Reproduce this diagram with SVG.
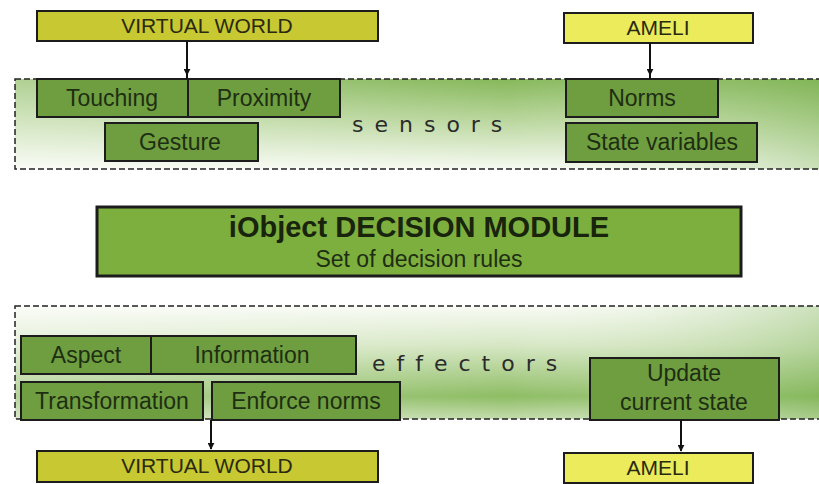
<svg xmlns="http://www.w3.org/2000/svg" width="819" height="484" viewBox="0 0 819 484">
<defs>
<linearGradient id="gS" x1="0" y1="0" x2="0" y2="1">
<stop offset="0" stop-color="#86b85a"/>
<stop offset="0.45" stop-color="#b9d69c"/>
<stop offset="1" stop-color="#f6faf1"/>
</linearGradient>
<linearGradient id="gE" x1="0" y1="0" x2="0" y2="1">
<stop offset="0" stop-color="#f8fbf4"/>
<stop offset="0.35" stop-color="#d6e7c4"/>
<stop offset="0.8" stop-color="#8ebd64"/>
<stop offset="1" stop-color="#c4dcae"/>
</linearGradient>
<linearGradient id="gH" x1="0" y1="0" x2="1" y2="0">
<stop offset="0" stop-color="#ffffff" stop-opacity="0.35"/>
<stop offset="0.6" stop-color="#ffffff" stop-opacity="0"/>
<stop offset="1" stop-color="#6faa44" stop-opacity="0.35"/>
</linearGradient>
<marker id="arr" viewBox="0 0 10 10" refX="9" refY="5" markerWidth="7" markerHeight="7" orient="auto" markerUnits="userSpaceOnUse">
<path d="M0,0 L10,5 L0,10 z" fill="#111"/>
</marker>
<style>
.band{stroke:#222;stroke-width:1.5;stroke-dasharray:6 3}
.n{fill:#6e9e40;stroke:#1c1c1c;stroke-width:2}
.vw{fill:#c8c832;stroke:#1c1c1c;stroke-width:2}
.am{fill:#ebeb5c;stroke:#1c1c1c;stroke-width:2}
.dm{fill:#7daf3e;stroke:#1c1c1c;stroke-width:3}
.t{font-family:"Liberation Sans",Arial,sans-serif;font-size:23px;fill:#1e2e12;text-anchor:middle}
.tv{font-family:"Liberation Sans",Arial,sans-serif;font-size:21px;fill:#2a2a10;text-anchor:middle}
.lbl{font-family:"DejaVu Sans",sans-serif;font-size:22px;fill:#2b2b2b;letter-spacing:2px}
.c{stroke:#111;stroke-width:2;fill:none}
</style>
</defs>
<rect width="819" height="484" fill="#ffffff"/>

<g id="sensors">
<rect x="15" y="79" width="820" height="90" fill="url(#gS)"/>
<rect x="15" y="79" width="820" height="90" fill="url(#gH)"/>
<rect class="band" x="15" y="79" width="820" height="90" fill="none"/>
<text class="lbl" x="352" y="132">s e n s o r s</text>
</g>

<g id="effectors">
<rect x="15" y="306" width="820" height="113" fill="url(#gE)"/>
<rect x="15" y="306" width="820" height="113" fill="url(#gH)"/>
<rect class="band" x="15" y="306" width="820" height="113" fill="none"/>
<text class="lbl" x="372" y="371">e f f e c t o r s</text>
</g>

<g id="vw-top"><rect class="vw" x="37" y="11" width="341" height="30"/><text class="tv" x="207" y="33">VIRTUAL WORLD</text></g>
<g id="ameli-top"><rect class="am" x="564" y="13" width="189" height="30"/><text class="tv" x="658" y="35">AMELI</text></g>

<g id="touching"><rect class="n" x="37" y="79" width="151" height="38"/><text class="t" x="112" y="106">Touching</text></g>
<g id="proximity"><rect class="n" x="188" y="79" width="152" height="38"/><text class="t" x="264" y="106">Proximity</text></g>
<g id="gesture"><rect class="n" x="105" y="123" width="153" height="38"/><text class="t" x="180" y="150">Gesture</text></g>
<g id="norms"><rect class="n" x="566" y="79" width="152" height="38"/><text class="t" x="642" y="106">Norms</text></g>
<g id="statevars"><rect class="n" x="566" y="123" width="191" height="39"/><text class="t" x="662" y="150">State variables</text></g>

<g id="decision">
<rect class="dm" x="97" y="207" width="644" height="69"/>
<text x="419" y="237" text-anchor="middle" font-family="'Liberation Sans',Arial,sans-serif" font-size="29" font-weight="bold" fill="#18240c">iObject DECISION MODULE</text>
<text x="419" y="267" text-anchor="middle" font-family="'Liberation Sans',Arial,sans-serif" font-size="23" fill="#1e2e12">Set of decision rules</text>
</g>

<g id="aspect"><rect class="n" x="21" y="336" width="130" height="38"/><text class="t" x="86" y="363">Aspect</text></g>
<g id="information"><rect class="n" x="151" y="336" width="205" height="38"/><text class="t" x="252" y="363">Information</text></g>
<g id="transformation"><rect class="n" x="21" y="382" width="182" height="38"/><text class="t" x="112" y="409">Transformation</text></g>
<g id="enforce"><rect class="n" x="212" y="382" width="188" height="38"/><text class="t" x="306" y="409">Enforce norms</text></g>
<g id="update"><rect class="n" x="590" y="358" width="189" height="62"/><text class="t" x="684" y="381">Update</text><text class="t" x="684" y="410">current state</text></g>

<g id="vw-bottom"><rect class="vw" x="37" y="451" width="341" height="31"/><text class="tv" x="207" y="473">VIRTUAL WORLD</text></g>
<g id="ameli-bottom"><rect class="am" x="564" y="453" width="189" height="30"/><text class="tv" x="658" y="475">AMELI</text></g>

<g id="connectors">
<path class="c" d="M187 41 V75" marker-end="url(#arr)"/><path class="c" d="M187 74 V79"/>
<path class="c" d="M650 43 V75" marker-end="url(#arr)"/><path class="c" d="M650 74 V79"/>
<path class="c" d="M211 420 V449" marker-end="url(#arr)"/>
<path class="c" d="M681 420 V451" marker-end="url(#arr)"/>
</g>
</svg>
